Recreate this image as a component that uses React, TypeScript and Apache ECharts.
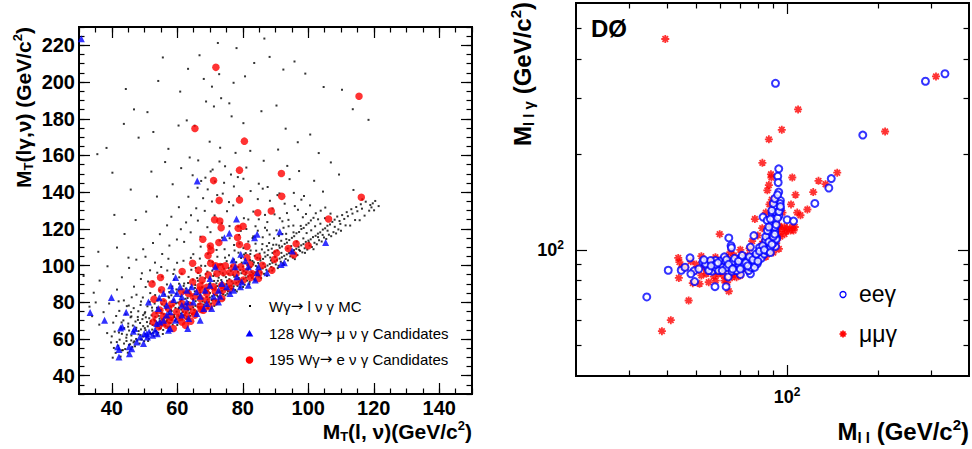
import React, { useEffect, useRef } from 'react';
import * as echarts from 'echarts';

// ---------- Left panel data: [M_T(l,nu), M_T(l gamma, nu)] ----------
const mcSparse: number[][] = [
  [55.6,213.4],[44.3,196.2],[46.8,185.1],[50.9,183.6],[48.2,169.7],[52.7,172.8],[60.4,176.3],[62.9,179.1],[57.3,163.6],[63.8,158.9],[68.1,201.7],[70.6,197.5],[72.8,204.3],[73.4,191.2],[75.9,188.4],[77.2,199.6],[80.7,203.1],[83.5,210.4],[88.2,213.7],[95.8,211.2],[99.1,204.6],[104.7,197.3],[110.3,195.8],[113.6,185.2],[118.4,179.4],[65.3,176.2],[68.8,189.4],[71.2,186.7],[76.6,181.3],[80.2,177.6],[85.7,184.1],[90.3,187.2],[93.1,174.6],[96.8,167.2],[100.6,171.4],[103.2,161.3],[106.9,156.2],[109.4,149.6],[113.8,141.2],[116.5,136.1],[119.7,133.9],[58.6,144.3],[61.2,153.1],[64.7,149.2],[66.4,157.3],[69.9,167.5],[73.1,164.2],[77.8,161.4],[82.3,162.5],[86.4,157.1],[90.8,163.2],[93.6,154.3],[97.2,151.5],[101.8,146.2],[104.5,140.3],[67.3,146.1],[70.2,151.3],[74.6,154.1],[78.5,148.2],[81.1,153.4],[84.9,144.6],[87.6,142.8],[91.2,139.3],[94.3,147.1],[98.7,137.9],[40.2,150.6],[45.8,141.4],[52.1,151.2],[56.3,156.4],[35.6,160.7],[38.4,164.1],[43.7,177.2],[54.2,200.6],[60.9,194.8],[63.3,207.2],[66.8,214.6],[72.4,221.3],[78.1,218.5],[86.6,223.7],[92.4,206.8],[50.5,129.4],[53.8,137.6],[47.3,124.8],[43.9,117.2],[41.6,109.8],[45.1,104.3],[38.7,99.6],[36.3,91.8],[34.5,85.2],[33.2,77.6],[31.4,94.3],[35.9,107.5],[40.8,127.6],
];

const mcCore: number[][] = [
  [40.3,49.8],[40.65,55.1],[40.0,61.4],[40.45,68.9],[41.2,52.4],[41.55,58.3],[40.9,64.0],[41.35,72.5],[42.7,50.4],[43.05,53.8],[42.4,59.6],[42.85,66.2],[42.3,75.3],[43.4,53.9],[43.75,57.5],[43.1,62.8],[43.55,70.1],[44.1,54.5],[44.45,60.7],[43.8,65.9],[44.25,73.4],[43.7,81.0],[44.9,52.5],[45.25,56.8],[44.6,62.3],[45.05,68.4],[45.6,57.1],[45.95,59.2],[45.3,64.6],[45.75,71.8],[45.2,78.2],[46.3,55.6],[46.65,58.1],[46.0,61.9],[46.45,67.3],[45.9,74.6],[47.1,56.0],[47.45,60.0],[46.8,63.7],[47.25,69.5],[46.7,76.8],[47.55,84.1],[47.8,59.1],[48.15,62.5],[47.5,66.1],[47.95,72.0],[48.5,57.5],[48.85,59.8],[48.2,64.3],[48.65,68.7],[48.1,75.1],[48.95,80.4],[49.2,59.7],[49.55,61.3],[48.9,65.2],[49.35,70.8],[48.8,78.5],[49.9,58.8],[50.25,62.7],[49.6,67.0],[50.05,73.9],[49.5,82.6],[50.35,88.3],
  [50.6,60.9],[50.95,61.9],[50.3,64.8],[50.75,69.2],[50.2,74.6],[51.3,60.1],[51.65,63.5],[51.0,66.9],[51.45,71.3],[50.9,77.8],[51.75,85.0],[52.0,62.9],[52.35,65.1],[51.7,68.4],[52.15,72.9],[51.6,80.2],[52.8,61.7],[53.15,64.2],[52.5,67.6],[52.95,70.5],[52.4,75.4],[53.25,83.9],[52.65,91.2],[53.5,64.4],[53.85,66.8],[53.2,69.9],[53.65,74.1],[53.1,79.3],[54.2,63.4],[54.55,65.7],[53.9,68.8],[54.35,72.6],[53.8,77.0],[54.65,86.5],[54.9,65.8],[55.25,67.4],[54.6,71.1],[55.05,75.8],[54.5,81.7],[55.35,94.0],[55.7,64.9],[56.05,68.3],[55.4,70.7],[55.85,73.5],[55.3,78.9],[56.15,84.2],[56.4,67.1],[56.75,69.6],[56.1,72.2],[56.55,76.4],[56.0,80.8],[56.85,89.7],[57.1,66.4],[57.45,68.9],[56.8,71.7],[57.25,74.8],[56.7,79.1],[57.55,85.6],[56.95,97.3],[57.9,68.6],[58.25,70.4],[57.6,73.6],[58.05,77.7],[57.5,82.5],[58.6,67.8],[58.95,71.9],[58.3,75.2],[58.75,78.3],[58.2,83.8],[59.05,92.4],[59.3,69.9],[59.65,70.8],[59.0,73.1],[59.45,76.9],[58.9,81.2],[59.75,87.0],
  [60.1,69.2],[60.45,72.4],[59.8,74.9],[60.25,79.8],[59.7,84.6],[60.55,90.1],[59.95,101.5],[60.8,71.3],[61.15,73.8],[60.5,77.1],[60.95,80.5],[60.4,86.3],[61.5,70.6],[61.85,72.9],[61.2,76.0],[61.65,78.8],[61.1,83.2],[61.95,88.9],[61.35,95.6],[62.3,72.9],[62.65,74.5],[62.0,77.7],[62.45,81.9],[61.9,85.4],[63.0,72.1],[63.35,75.6],[62.7,78.9],[63.15,82.3],[62.6,87.5],[63.45,93.8],[63.7,74.2],[64.05,76.3],[63.4,80.1],[63.85,84.7],[63.3,90.5],[64.15,104.2],[64.5,73.6],[64.85,77.2],[64.2,79.5],[64.65,83.6],[64.1,88.1],[65.2,75.8],[65.55,78.0],[64.9,81.4],[65.35,85.9],[64.8,92.3],[65.65,98.7],[65.9,75.0],[66.25,77.5],[65.6,80.6],[66.05,84.2],[65.5,89.4],[66.35,96.0],[66.7,77.2],[67.05,79.3],[66.4,82.8],[66.85,86.6],[66.3,91.7],[67.15,110.3],[67.4,76.5],[67.75,80.4],[67.1,83.9],[67.55,88.2],[67.0,94.5],[68.1,78.7],[68.45,79.9],[67.8,82.1],[68.25,85.3],[67.7,90.6],[68.55,99.8],[68.9,77.9],[69.25,81.5],[68.6,84.8],[69.05,87.7],[68.5,93.1],[69.35,106.4],[69.6,80.1],[69.95,82.6],[69.3,86.0],[69.75,89.9],[69.2,96.7],
  [70.3,79.3],[70.65,83.3],[70.0,85.1],[70.45,88.5],[69.9,92.8],[70.75,101.9],[70.15,118.2],[71.1,81.6],[71.45,84.0],[70.8,87.4],[71.25,91.6],[70.7,97.2],[71.8,80.9],[72.15,83.7],[71.5,86.9],[71.95,90.3],[71.4,95.1],[72.25,104.8],[72.5,83.0],[72.85,85.5],[72.2,88.8],[72.65,93.4],[72.1,99.0],[72.95,113.6],[73.3,82.3],[73.65,86.2],[73.0,89.5],[73.45,92.1],[72.9,96.8],[74.0,84.5],[74.35,87.0],[73.7,90.9],[74.15,94.6],[73.6,100.7],[74.45,108.9],[74.7,83.8],[75.05,86.8],[74.4,89.2],[74.85,93.7],[74.3,98.3],[75.5,86.0],[75.85,88.3],[75.2,91.7],[75.65,95.5],[75.1,102.4],[75.95,121.5],[76.2,85.2],[76.55,89.0],[75.9,92.6],[76.35,97.1],[75.8,105.6],[76.9,87.4],[77.25,88.7],[76.6,91.4],[77.05,94.9],[76.5,99.6],[77.35,111.2],[77.7,86.7],[78.05,90.6],[77.4,93.9],[77.85,98.0],[77.3,103.3],[78.4,88.9],[78.75,91.2],[78.1,94.4],[78.55,96.6],[78.0,101.8],[78.85,116.7],[79.1,88.1],[79.45,90.9],[78.8,93.2],[79.25,97.5],[78.7,107.0],[79.9,90.4],[80.25,92.7],[79.6,95.8],[80.05,99.4],[79.5,104.1],[80.35,125.8],
  [80.6,89.6],[80.95,93.5],[80.3,97.0],[80.75,101.2],[80.2,109.5],[81.3,91.8],[81.65,94.1],[81.0,96.2],[81.45,100.3],[80.9,106.8],[82.1,91.1],[82.45,94.8],[81.8,98.6],[82.25,103.0],[81.7,113.1],[82.8,93.3],[83.15,95.6],[82.5,99.1],[82.95,102.5],[82.4,108.2],[83.25,129.4],[83.5,92.5],[83.85,96.3],[83.2,100.6],[83.65,105.3],[84.3,94.8],[84.65,97.1],[84.0,99.8],[84.45,104.2],[83.9,111.9],[85.0,94.0],[85.35,97.9],[84.7,101.4],[85.15,106.5],[84.6,119.0],[85.7,96.2],[86.05,98.4],[85.4,102.7],[85.85,108.8],[86.5,95.5],[86.85,99.3],[86.2,103.6],[86.65,107.1],[86.1,115.4],[87.2,97.7],[87.55,100.0],[86.9,104.9],[87.35,110.6],[87.9,96.9],[88.25,100.8],[87.6,105.7],[88.05,112.3],[87.5,123.7],[88.7,99.2],[89.05,101.5],[88.4,104.4],[88.85,109.2],[89.4,98.4],[89.75,102.3],[89.1,106.9],[89.55,114.8],
  [90.1,100.6],[90.45,103.0],[89.8,107.6],[90.25,111.4],[89.7,127.9],[90.9,99.9],[91.25,103.8],[90.6,108.3],[91.05,116.2],[91.6,102.1],[91.95,104.5],[91.3,109.7],[91.75,113.5],[92.3,101.3],[92.65,105.3],[92.0,110.4],[92.45,120.6],[93.1,103.6],[93.45,106.1],[92.8,111.8],[93.25,117.3],[93.8,102.8],[94.15,106.8],[93.5,112.5],[93.95,124.9],[94.5,105.0],[94.85,107.7],[94.2,113.9],[95.3,104.3],[95.65,108.4],[95.0,115.1],[95.45,121.8],[96.0,106.5],[96.35,109.1],[95.7,116.0],[96.7,105.7],[97.05,110.2],[96.4,117.6],[96.85,130.4],[97.5,108.0],[97.85,111.0],[97.2,118.3],[98.2,107.2],[98.55,111.7],[97.9,119.9],[98.35,126.3],[98.9,109.4],[99.25,112.9],[98.6,120.5],[99.7,108.7],[100.05,113.6],[99.4,122.2],
  [100.4,110.9],[100.75,114.3],[100.1,123.1],[100.55,132.8],[101.1,110.1],[101.45,115.5],[100.8,124.6],[101.9,112.4],[102.25,116.2],[101.6,126.0],[102.6,111.6],[102.95,117.4],[102.3,128.5],[103.3,113.8],[103.65,118.1],[103.0,125.2],[104.1,113.1],[104.45,119.6],[103.8,129.9],[104.8,115.3],[105.15,120.3],[105.5,114.5],[105.85,121.7],[105.2,131.6],[106.3,116.8],[106.65,122.4],[107.0,116.0],[107.35,123.8],[107.7,118.2],[108.05,125.0],[108.5,117.5],[108.85,126.7],[109.2,119.7],[109.55,124.3],[110.0,119.0],[110.35,127.5],[111.4,121.9],[111.75,129.1],[112.8,121.8],[113.15,130.7],[114.3,124.8],[114.65,131.9],[115.7,124.7],[116.05,133.4],[117.2,127.2],[117.55,134.8],[118.6,129.9],[118.95,133.0],[120.1,130.1],[120.45,135.2],[121.5,132.4],
];

const mcExtra: number[][] = [
  [42.0,56.3],[42.2,63.5],[43.0,69.0],[44.5,58.9],[45.0,66.7],[46.0,72.3],[46.9,58.7],[47.4,65.0],[48.0,70.4],[48.8,62.1],[49.6,73.0],[50.1,65.9],[50.4,71.8],[51.1,58.9],[51.9,69.7],[52.3,77.1],[52.6,63.3],[53.3,72.0],[53.9,62.2],[54.0,80.9],[54.6,69.5],[55.2,74.2],[55.6,62.7],[56.1,77.9],[56.9,70.2],[57.3,83.1],[57.7,66.5],[58.1,75.8],[58.5,88.6],[59.1,72.1],[59.6,79.4],[60.0,67.6],[60.4,76.4],[60.6,93.6],[61.3,81.3],[61.7,74.7],[62.1,90.2],[62.8,70.9],[63.2,79.1],[63.6,86.4],[64.0,72.6],[64.3,97.7],[64.8,81.9],[65.4,87.8],[65.7,73.7],[66.1,93.2],[66.5,79.0],[67.0,85.3],[67.3,99.9],[67.9,75.4],[68.3,87.0],[68.7,95.4],[69.0,82.9],[69.4,76.8],[69.8,102.7],[70.1,90.4],[70.6,81.2],[71.0,94.3],[71.3,78.0],[71.7,88.1],[72.0,108.5],[72.4,91.7],[72.8,80.1],[73.1,100.4],[73.5,84.9],[73.9,95.8],[74.2,81.6],[74.6,104.3],[75.0,90.0],[75.3,84.7],[75.7,98.7],[76.0,114.9],[76.4,87.4],[76.8,102.2],[77.1,90.2],[77.5,108.2],[78.2,85.9],[78.6,99.2],[79.0,112.0],[79.3,92.0],[79.7,101.6],[80.1,88.3],[80.4,106.0],[80.8,95.0],[81.1,119.9],[81.6,97.8],[82.0,89.9],[82.3,106.3],[82.7,96.4],[83.0,115.0],[83.4,101.7],[83.8,91.8],[84.1,108.1],[84.5,99.0],[84.9,125.2],[85.3,103.8],[85.6,93.2],[86.0,111.7],[86.3,101.0],[86.8,120.6],[87.4,94.4],[87.8,108.4],[88.2,116.9],[88.6,102.8],[89.0,97.3],[89.3,111.3],[89.9,104.7],[90.3,119.2],[90.7,98.6],[91.1,110.9],[91.8,106.9],[92.1,117.2],[92.6,100.4],[93.3,114.4],[93.7,109.3],[94.0,121.4],[94.8,110.6],[95.5,118.1],[95.9,103.5],[96.5,113.1],[97.2,108.6],[97.7,121.6],[98.5,114.8],[99.0,106.9],[99.5,117.7],[100.2,112.6],[100.9,119.2],[101.6,108.9],[102.1,121.4],[103.0,115.5],[103.7,122.8],[104.4,116.7],[105.1,125.8],[105.9,119.0],[106.8,128.3],[108.1,121.1],[109.8,122.7],[111.0,125.4],[112.1,126.9],[113.5,128.3],[115.0,129.6],[116.4,131.0],[119.3,131.7],
];

const mcMid: number[][] = [
  [46.8,88.5],[48.9,92.7],[51.7,97.4],[53.2,101.6],[55.4,106.3],[57.6,110.9],[59.9,114.2],[61.1,119.8],[62.7,123.5],[64.2,127.4],[65.8,131.2],[67.9,136.7],[69.3,141.5],[71.5,145.8],[73.9,139.2],[75.8,134.6],[77.3,143.1],[78.9,137.8],[80.2,147.3],[82.4,140.6],[84.6,136.2],[86.1,141.9],[88.3,135.3],[90.6,138.4],[92.8,133.7],[95.6,139.6],[97.9,135.9],[50.3,104.8],[52.6,112.3],[54.7,117.1],[56.9,121.9],[58.2,126.6],[60.5,131.8],[63.4,137.5],[66.2,142.4],[68.6,147.9],[70.8,152.3],[72.9,156.7],[43.1,93.6],[45.3,98.7],[47.5,103.2],[49.6,108.9],[41.6,86.9],[39.2,79.3],[37.5,74.6],[38.6,63.2],[39.8,58.1],[36.2,67.8],[35.1,79.9],[34.0,72.4],
  [59.1,97.8],[61.9,102.6],[64.9,106.2],[67.1,115.7],[69.2,120.9],[71.4,127.3],[73.6,123.1],[75.2,129.6],[77.1,132.8],[79.4,118.9],[81.7,125.1],[83.9,121.4],[86.8,127.6],[89.1,131.1],[91.3,125.8],[93.5,128.6],[95.9,132.4],[99.3,128.1],[62.1,112.9],[64.1,118.1],[66.3,124.5],[68.4,129.8],[70.6,134.9],[72.2,138.4],[74.3,145.1],[76.4,149.6],[55.1,99.2],[57.3,103.7],[53.9,96.1],[51.1,91.3],[49.2,95.8],[46.1,82.7],[44.6,77.9],[42.1,80.5],[58.8,95.4],[66.9,103.8],[69.8,110.7],[73.7,115.2],[78.6,121.3],[83.2,115.9],[87.4,119.2],[92.1,124.1],
];

const muCandidates: number[][] = [
  [30.7,223.6],[66.1,146.1],[78.1,125.4],[91.3,118.4],[105.3,112.6],[75.9,117.6],[74.4,115.1],[84.4,117],[83.6,115.2],[95.1,107.9],[79.4,106.1],[80.8,102.6],[77,103],[71.6,99.3],[84.8,99.3],[91.7,100.6],[92.7,101.5],[87.4,96.1],[84.4,96.1],[77.7,99.3],[59.5,93.5],[58,89],[39.9,82.6],[33.4,74.4],[37.8,70.2],[44.4,74.6],[43.2,66.6],[42.7,66],[47,65.7],[46.6,64.2],[51.2,80.2],[54.5,82.4],[41.8,55.7],[42.2,54.2],[42.2,50.2],[45.4,52],[45.3,55.7],[46.1,54.7],[47.6,58.4],[49.7,57.5],[49.9,62.9],[51.4,63.8],[53.2,64.8],[52.5,62],[50.9,61.1],[53.7,68.4],[55.8,70.2],[57.8,74.8],[56.8,78.4],[58.9,81.5],[59.9,84.8],[61.4,83],[62.9,86.6],[60.9,88.4],[64.4,88.4],[65.9,85.7],[67,83.3],[68.5,86.6],[70,89.3],[71.1,83.3],[72.6,86.6],[73.6,90.2],[75.1,88.4],[77.2,86.6],[79.3,88.4],[81.7,89.3],[83.8,92.1],[76.1,84.8],[62.9,77.5],[64.9,80.2],[69,79.3],[70.5,76.6],[72.6,80.2],[68.1,76.6],[59.5,70.2],[61.4,73],[63.5,71.1],[66,73.9],[56.8,73],[54.7,69.3],[57.3,64.8],[57.8,65.7],[63.2,65.7],[50.7,62.9],[48.6,61.1],[53.9,62.9],[61.4,78.4],[67,70.2],[58.4,86.6],[73.1,83.3],[81.7,99.3],[78.2,93.9],[79.7,91.1],[70,93],[62.9,80.2],[55.8,84.8],[54.2,76.6],
];

const eCandidates: number[][] = [
  [71.8,208],[115.5,192.3],[65.4,174.7],[80.5,167.8],[79,152],[91.8,150.2],[71.1,146.3],[116.2,137.2],[91.9,137.7],[72.8,135.5],[79,135.7],[84.6,128.8],[88.7,129.7],[106.2,125.4],[71.4,125],[73,124.3],[80.1,121.4],[73.4,120.6],[67.8,114.3],[78.6,120.3],[78.4,115.3],[79,111.5],[70.1,110.6],[72.7,112.6],[70.3,108.4],[81.3,110.4],[96.3,111.9],[100,110.8],[93.9,109.3],[90.3,106.8],[95.6,105.9],[69.4,105.5],[84.6,104.6],[81.3,104.3],[89.7,103.3],[64.7,101.3],[61.5,96.8],[66.5,97.5],[54.9,93.5],[52.3,90],[55.2,86.8],[70.2,101.2],[71.7,99.9],[73.1,99.5],[74.7,99.9],[77.2,99.3],[79.4,99.3],[82.2,100.6],[86,100.2],[88.9,97.5],[85,96],[82.8,95.7],[80.7,96.6],[78,95.7],[76.1,96.2],[74.1,96.2],[72.1,95.7],[69.5,94.8],[67.6,92.1],[64.7,91.1],[67,88.8],[69,88.1],[71,88.4],[73.6,89.3],[76.1,90.6],[78.2,91.1],[80.2,92.1],[82.4,93.5],[84.8,93],[66.8,86.6],[69,84.8],[71.6,85.7],[73.9,86.6],[76.1,87.5],[61.4,85.7],[63.4,84.8],[64.9,83],[67,82.1],[69,81.1],[71.6,80.2],[73.6,82.1],[52.9,81.7],[55.8,80.2],[58.3,79],[61.4,79.3],[63.9,78.4],[67,77.9],[69.8,77.5],[54.7,75.7],[57.3,76.6],[59.8,74.8],[62.4,75.7],[64.9,74.8],[67.3,76],[53.2,73],[55.8,72.4],[58,72],[60.6,71.7],[62.9,72.4],[65.4,73],[52.7,69.3],[55.5,68.8],[57.8,70.2],[61.4,69.3],[64.1,69.7],[54.3,66.6],[56.8,67.5],[58.8,65.7],[62.5,67.5],[68,75.7],
];

// ---------- Right panel data: [M_ll, M_ll gamma] ----------
const eegPoints: number[][] = [
  [34.3,71],[40.4,86.2],[44.6,86.2],[45.9,88.1],[47.7,94.3],[49.2,85.8],[49.4,79.4],[52.6,91.6],[54.5,88.1],[56.4,85.6],[57.7,76.5],[57.9,88.1],[60.1,92.2],[62.8,76.5],[63.8,82.1],[64.1,109],[65.2,103],[65.4,101.5],[70,83.6],[75.6,84],[76.6,90.3],[77.6,110.8],[83.2,126.8],[91.5,335],[178,230],[287,340],[333,359],[93.8,180],[93.1,170.6],[93.4,163],[93.8,152],[95,143],[94.8,139.8],[91.5,136.5],[95,134.8],[100,124.4],[105,123.2],[123.5,140],[137.4,156.6],[140,167.7],[85.9,123.8],[89.2,121.4],[89.6,113.7],[88,109.7],[92.2,109.1],[85.9,104.5],[91.5,102.5],[81,101.5],[80.2,96],[76.6,94.8],[72.8,93.7],[71,90.3],[67.5,90.3],[64.9,88.1],[62.5,91.3],[60.9,88.1],[59.3,86],[65.7,85.6],[69,88.1],[72.8,88.1],[79.6,90.3],[74.6,86],[82.7,96],[87.4,112.6],[89.2,130],[91,114.8],[57.9,92.5],[53.7,90.3],[55.8,92.5],[75.6,102],[84.9,107],
  [72,90],[74,92],[76,88],[78,91],[82,94],[84,97],[86,99],[88,102],[90,105],[92,108],[91,118],[90,125],[92,131],[94,128],[68,86],[66,92],[63,88],[58,90],[55,86],[62,95],[70,94],
  [48,84],[51,87],[53,93],[56,89],[59,91],[61,86],[63,93],[64,90],[66,87],[67,94],[69,92],[70,87],[71,96],[73,91],[74,89],[75,95],[77,93],[78,88],[79,97],[80,92],[81,99],[83,103],[84,100],[85,110],[86,115],[87,118],[88,125],[89,133],[90,140],[91,145],[93,149],[87,106],[88,98],[89,104],[90,110],[91,112],[92,120],[93,126],[94,132],[95,137],
];

const mumugPoints: number[][] = [
  [39.5,462],[311,352],[108.7,277],[96,239],[211,236],[87,223],[82.8,188],[88.4,173],[88.7,169],[104,169],[127,165],[146.5,175],[134,161],[86,154],[106.6,149],[122,152],[116.7,134],[103,139],[108,131],[110.7,128.5],[87.4,139],[78.2,125],[96.5,131],[82.7,117],[88.7,120],[102.6,115],[99.2,114.3],[105,115],[93.9,118],[92.2,123.8],[93.6,112.4],[59.8,112],[76.6,106.5],[82.7,104.5],[89,107.5],[93.9,100.7],[86.5,100.7],[70,100],[64.9,98.3],[66.6,96],[57.9,94.8],[52,95.5],[43.6,94.3],[44,91.4],[43.8,81.5],[44.9,88.1],[50,89.9],[52,83],[48.7,78.5],[51.3,78.1],[57.2,82.3],[56.6,88.1],[59.3,90.3],[61.7,82.9],[64.1,74],[63.3,79],[65.7,81.9],[69,85],[70.9,88.1],[47.2,69.2],[41.2,60],[38.5,55.4],[74.6,93],[78.5,94.8],[80.5,97.1],[59.3,84],[69,90.3],[62.5,92.5],[67.5,88.1],[84.3,101.9],
  [72,88],[75,86],[77,90],[80,92],[85,95],[90,98],[92,105],[95,110],[98,112],[72,95],[68,82],[60,86],[55,90],[54,84],[58,80],[46,88],[48,92],[66,91],
  [50,86],[53,88],[56,92],[58,86],[61,89],[63,95],[65,87],[66,84],[68,93],[70,83],[71,91],[73,87],[74,96],[76,92],[77,95],[79,90],[81,94],[83,98],[84,106],[86,110],[87,113],[88,118],[89,111],[90,114],[91,108],[92,116],[94,119],[96,116],[98,118],[100,117],[104,118],[106,118],[90,129],[89,144],[87,160],[85,131],[80,111],[75,101],[62,80],[55,79],
];

// ---------- Axis tick values ----------
const leftXMajor = [40, 60, 80, 100, 120, 140];
const leftYMajor = [40, 60, 80, 100, 120, 140, 160, 180, 200, 220];
const rightXMinor = [30, 40, 50, 60, 70, 80, 90, 200, 300];
const rightYMinor = [50, 60, 70, 80, 90, 200, 300, 400, 500];
const decade = [100];

const FONT = "'Liberation Sans', Arial, Helvetica, sans-serif";
const tickLine = { color: '#000', width: 1.2 };

const linMinor = (gridIndex: number, position: string, min: number, max: number) => ({
  type: 'value', gridIndex, position, min, max, interval: 5,
  axisLine: { show: false }, splitLine: { show: false },
  axisTick: { show: true, inside: true, length: 5.5, lineStyle: tickLine },
  axisLabel: { show: false },
});

const linMajor = (gridIndex: number, position: string, min: number, max: number, values: number[], showLabel: boolean, margin: number) => ({
  type: 'value', gridIndex, position, min, max,
  axisLine: { show: false }, splitLine: { show: false },
  axisTick: { show: true, inside: true, length: 11, customValues: values, lineStyle: tickLine },
  axisLabel: showLabel
    ? { show: true, customValues: values, color: '#000', fontSize: 20, fontWeight: 'bold', fontFamily: FONT, margin }
    : { show: false },
});

const supRich = {
  a: { fontSize: 18, fontWeight: 'bold', fontFamily: FONT, color: '#000' },
  b: { fontSize: 12, fontWeight: 'bold', fontFamily: FONT, color: '#000', padding: [0, 0, 10, 0] },
};

const logAxis = (gridIndex: number, position: string, min: number, max: number, values: number[], len: number, showLabel: boolean, margin: number) => ({
  type: 'log', logBase: 10, gridIndex, position, min, max,
  axisLine: { show: false }, splitLine: { show: false }, minorTick: { show: false },
  axisTick: { show: true, inside: true, length: len, customValues: values, lineStyle: tickLine },
  axisLabel: showLabel
    ? { show: true, customValues: values, formatter: () => '{a|10}{b|2}', rich: supRich, margin }
    : { show: false },
});

const asteriskPath = 'path://M5,0L5,10M0,5L10,5M1.5,1.5L8.5,8.5M1.5,8.5L8.5,1.5';

const titleRich = (size: number) => ({
  m: { fontSize: size, fontWeight: 'bold', fontFamily: FONT, fill: '#000' },
  s: { fontSize: Math.round(size * 0.62), fontWeight: 'bold', fontFamily: FONT, fill: '#000', padding: [size * 0.55, 0, 0, 0] },
  p: { fontSize: Math.round(size * 0.62), fontWeight: 'bold', fontFamily: FONT, fill: '#000', padding: [0, 0, size * 0.55, 0] },
});

const legRich = {
  t: { fontSize: 15, fontFamily: FONT, fill: '#000' },
  r: { fontSize: 15, fontFamily: "'DejaVu Sans', sans-serif", fill: '#000' },
};

export default function App() {
  const ref = useRef<HTMLDivElement>(null);
  useEffect(() => {
    const chart = echarts.init(ref.current!, null, { renderer: 'svg' });
    const dot = { type: 'scatter', xAxisIndex: 0, yAxisIndex: 0, symbol: 'rect', symbolSize: 2, itemStyle: { color: '#000' }, silent: true };
    const option: any = {
      animation: false,
      backgroundColor: '#fff',
      grid: [
        { left: 79, top: 27, width: 393, height: 367, show: true, borderColor: '#000', borderWidth: 2, backgroundColor: 'transparent', outerBoundsMode: 'none' },
        { left: 576, top: 3, width: 393, height: 373, show: true, borderColor: '#000', borderWidth: 2, backgroundColor: 'transparent', outerBoundsMode: 'none' },
      ],
      xAxis: [
        linMinor(0, 'bottom', 30, 150),
        linMajor(0, 'bottom', 30, 150, leftXMajor, true, 4),
        linMinor(0, 'top', 30, 150),
        linMajor(0, 'top', 30, 150, leftXMajor, false, 4),
        logAxis(1, 'bottom', 20, 400, rightXMinor, 5.5, false, 0),
        logAxis(1, 'bottom', 20, 400, decade, 11, true, 10),
        logAxis(1, 'top', 20, 400, rightXMinor, 5.5, false, 0),
        logAxis(1, 'top', 20, 400, decade, 11, false, 0),
      ],
      yAxis: [
        linMinor(0, 'left', 30, 230),
        linMajor(0, 'left', 30, 230, leftYMajor, true, 4),
        linMinor(0, 'right', 30, 230),
        linMajor(0, 'right', 30, 230, leftYMajor, false, 4),
        logAxis(1, 'left', 40, 600, rightYMinor, 5.5, false, 0),
        logAxis(1, 'left', 40, 600, decade, 11, true, 12),
        logAxis(1, 'right', 40, 600, rightYMinor, 5.5, false, 0),
        logAxis(1, 'right', 40, 600, decade, 11, false, 0),
      ],
      series: [
        { ...dot, name: 'MC sparse', data: mcSparse },
        { ...dot, name: 'MC core', data: mcCore },
        { ...dot, name: 'MC extra', data: mcExtra },
        { ...dot, name: 'MC mid', data: mcMid },
        {
          name: 'e', type: 'scatter', xAxisIndex: 0, yAxisIndex: 0, data: eCandidates,
          symbol: 'circle', symbolSize: 7.5, itemStyle: { color: '#ff0000' }, silent: true,
        },
        {
          name: 'mu', type: 'scatter', xAxisIndex: 0, yAxisIndex: 0, data: muCandidates,
          symbol: 'triangle', symbolSize: 7, itemStyle: { color: '#0000ff' }, silent: true,
        },
        {
          name: 'mumug', type: 'scatter', xAxisIndex: 4, yAxisIndex: 4, data: mumugPoints,
          symbol: asteriskPath, symbolSize: 8,
          itemStyle: { color: '#ff0000', borderColor: '#ff0000', borderWidth: 1.8 }, silent: true,
        },
        {
          name: 'eeg', type: 'scatter', xAxisIndex: 4, yAxisIndex: 4, data: eegPoints,
          symbol: 'emptyCircle', symbolSize: 7,
          itemStyle: { color: '#0000ff', borderColor: '#0000ff', borderWidth: 1.3 }, silent: true,
        },
      ],
      graphic: [
        {
          type: 'text', x: 472, y: 431, silent: true,
          style: {
            text: '{m|M}{s|T}{m|(l, ν)(GeV/c}{p|2}{m|)}', rich: titleRich(21),
            align: 'right', verticalAlign: 'middle', fill: '#000',
          },
        },
        {
          type: 'text', x: 23, y: 27, rotation: Math.PI / 2, silent: true,
          style: {
            text: '{m|M}{s|T}{m|(lγ,ν) (GeV/c}{p|2}{m|)}', rich: titleRich(21),
            align: 'right', verticalAlign: 'middle', fill: '#000',
          },
        },
        {
          type: 'text', x: 969, y: 431, silent: true,
          style: {
            text: '{m|M}{s|l l}{m| (GeV/c}{p|2}{m|)}', rich: titleRich(24),
            align: 'right', verticalAlign: 'middle', fill: '#000',
          },
        },
        {
          type: 'text', x: 522, y: 2, rotation: Math.PI / 2, silent: true,
          style: {
            text: '{m|M}{s|l l γ}{m| (GeV/c}{p|2}{m|)}', rich: titleRich(24),
            align: 'right', verticalAlign: 'middle', fill: '#000',
          },
        },
        {
          type: 'text', x: 591, y: 28, silent: true,
          style: { text: 'DØ', font: `bold 24px ${FONT}`, fill: '#000', align: 'left', verticalAlign: 'middle' },
        },
        { type: 'rect', silent: true, shape: { x: 249, y: 305, width: 2, height: 2 }, style: { fill: '#000' } },
        {
          type: 'text', x: 269, y: 306, silent: true,
          style: { text: '{t|Wγ}{r|→}{t| l ν γ MC}', rich: legRich, align: 'left', verticalAlign: 'middle' },
        },
        {
          type: 'polygon', silent: true,
          shape: { points: [[249.5, 330], [253.3, 336.5], [245.7, 336.5]] }, style: { fill: '#0000ff' },
        },
        {
          type: 'text', x: 269, y: 333, silent: true,
          style: { text: '{t|128 Wγ}{r|→}{t| μ ν γ Candidates}', rich: legRich, align: 'left', verticalAlign: 'middle' },
        },
        { type: 'circle', silent: true, shape: { cx: 249.5, cy: 360, r: 3.8 }, style: { fill: '#ff0000' } },
        {
          type: 'text', x: 269, y: 359, silent: true,
          style: { text: '{t|195 Wγ}{r|→}{t| e ν γ Candidates}', rich: legRich, align: 'left', verticalAlign: 'middle' },
        },
        {
          type: 'circle', silent: true, shape: { cx: 843, cy: 294.5, r: 3 },
          style: { fill: 'none', stroke: '#0000ff', lineWidth: 1.3 },
        },
        {
          type: 'text', x: 859, y: 294, silent: true,
          style: { text: 'eeγ', font: `23px ${FONT}`, fill: '#000', align: 'left', verticalAlign: 'middle' },
        },
        {
          type: 'group', x: 843, y: 334, silent: true,
          children: [
            { type: 'line', shape: { x1: 0, y1: -3.5, x2: 0, y2: 3.5 }, style: { stroke: '#ff0000', lineWidth: 1.7 } },
            { type: 'line', shape: { x1: -3.5, y1: 0, x2: 3.5, y2: 0 }, style: { stroke: '#ff0000', lineWidth: 1.7 } },
            { type: 'line', shape: { x1: -2.5, y1: -2.5, x2: 2.5, y2: 2.5 }, style: { stroke: '#ff0000', lineWidth: 1.7 } },
            { type: 'line', shape: { x1: -2.5, y1: 2.5, x2: 2.5, y2: -2.5 }, style: { stroke: '#ff0000', lineWidth: 1.7 } },
          ],
        },
        {
          type: 'text', x: 859, y: 334, silent: true,
          style: { text: 'μμγ', font: `23px ${FONT}`, fill: '#000', align: 'left', verticalAlign: 'middle' },
        },
      ],
    };
    chart.setOption(option);
    return () => chart.dispose();
  }, []);
  return (
    <div
      ref={ref}
      style={{ position: 'fixed', left: 0, top: 0, width: 972, height: 449, background: '#fff' }}
    />
  );
}
